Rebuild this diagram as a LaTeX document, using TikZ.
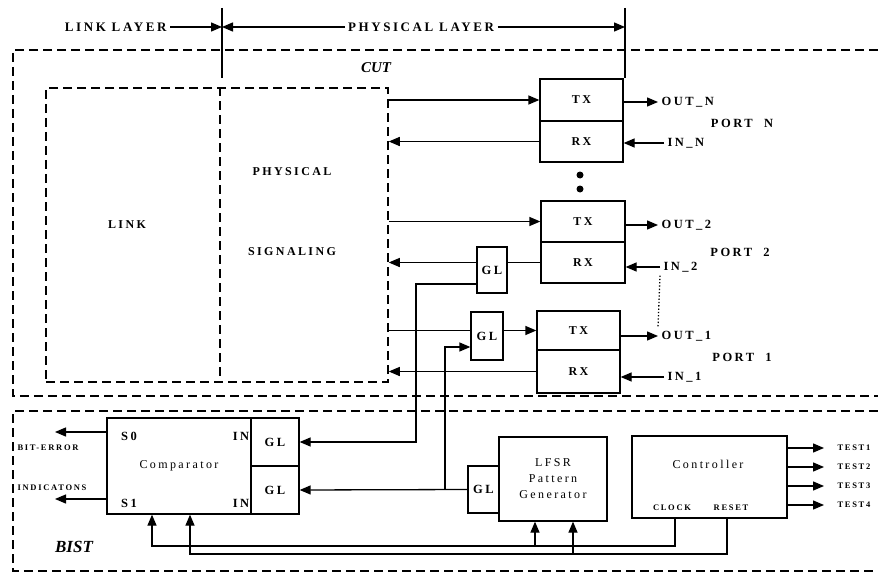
\documentclass[tikz,border=0pt]{standalone}
\usepackage{fontspec}
\setmainfont{Liberation Serif}
\newfontfamily\spaced[LetterSpace=20]{Liberation Serif}
\usetikzlibrary{positioning, arrows.meta, calc}

\begin{document}
\begin{tikzpicture}[x=1pt, y=-1pt,
    blk/.style={draw, line width=1.3pt, inner sep=0pt, align=center, fill=white},
    dsh/.style={draw, line width=1.5pt, dash pattern=on 9pt off 5pt},
    ln/.style={line width=1.3pt},
    arr/.style={line width=1.3pt, -{Triangle[length=11pt, width=9pt]}},
    big/.style={font=\spaced\bfseries\fontsize{12}{14}\selectfont},
    hdr/.style={font=\spaced\bfseries\fontsize{13}{15}\selectfont},
    mid/.style={font=\spaced\bfseries\fontsize{12.5}{14}\selectfont},
    txt/.style={font=\spaced\fontsize{12}{16}\selectfont, align=center},
    sml/.style={font=\spaced\bfseries\fontsize{8.5}{10}\selectfont}]
  \useasboundingbox (0,0) rectangle (878,575);

  \node[hdr, anchor=east] (ll) at (170,27) {LINK LAYER};
  \coordinate (d1) at (222,27);
  \coordinate (d2) at (625,27);
  \node[hdr] (pl) at (421,27) {PHYSICAL LAYER};
  \draw[arr] (ll.east) -- (d1);
  \draw[arr] (pl.west) -- (d1);
  \draw[arr] (pl.east) -- (d2);
  \draw[ln] ([yshift=19pt]d1) -- ([yshift=-51pt]d1);

  \draw[dsh] (878,50) -- (13,50) -- (13,396) -- (878,396);
  \node[font=\bfseries\itshape\fontsize{15}{17}\selectfont] (cut) at (376,68) {CUT};

  \node[dsh, minimum width=342pt, minimum height=294pt] (sig) at (217,235) {};
  \draw[dsh] ([xshift=3pt]sig.north) -- ([xshift=3pt]sig.south);
  \node[big] (lk) at (127,225) {LINK};
  \node[big] (ph) at (292,172) {PHYSICAL};
  \node[big] (sg) at (292,252) {SIGNALING};

  \node[blk, big, minimum width=83pt, minimum height=42pt] (txn) at (581.5,100) {TX};
  \node[blk, big, minimum width=83pt, minimum height=41pt] (rxn) at (581.5,141.5) {RX};
  \node[blk, big, minimum width=84pt, minimum height=41pt] (tx2) at (583,221.5) {TX};
  \node[blk, big, minimum width=84pt, minimum height=41pt] (rx2) at (583,262.5) {RX};
  \node[blk, big, minimum width=83pt, minimum height=39pt] (tx1) at (578.5,330.5) {TX};
  \node[blk, big, minimum width=83pt, minimum height=43pt] (rx1) at (578.5,371.5) {RX};
  \node[blk, mid, minimum width=30pt, minimum height=46pt] (gl2) at (492,270) {GL};
  \node[blk, mid, minimum width=32pt, minimum height=48pt] (gl1) at (487,336) {GL};
  \draw[ln] ([yshift=19pt]d2) -- (d2 |- txn.north);
  \fill (580,175) circle (3.5pt);
  \fill (580,189) circle (3.5pt);

  \node[mid, anchor=west] (outn) at (658,102) {OUT\_N};
  \node[mid] (ptn) at (742,123) {PORT~~N};
  \node[mid, anchor=west] (inn) at (664,143) {IN\_N};
  \node[mid, anchor=west] (out2) at (658,225) {OUT\_2};
  \node[mid] (pt2) at (740,252) {PORT~~2};
  \node[mid, anchor=west] (in2) at (660,267) {IN\_2};
  \node[mid, anchor=west] (out1) at (658,336) {OUT\_1};
  \node[mid] (pt1) at (742,357) {PORT~~1};
  \node[mid, anchor=west] (in1) at (664,377) {IN\_1};
  \draw[arr] (txn.east |- outn) -- (outn.west);
  \draw[arr] (inn.west) -- (rxn.east |- inn);
  \draw[arr] (tx2.east |- out2) -- (out2.west);
  \draw[arr] (in2.west) -- (rx2.east |- in2);
  \draw[arr] (tx1.east |- out1) -- (out1.west);
  \draw[arr] (in1.west) -- (rx1.east |- in1);
  \draw[ln, dotted] (in2.south west) -- (out1.north west);

  \draw[arr] (sig.east |- txn) -- (txn.west);
  \draw[arr] (rxn.west) -- (sig.east |- rxn);
  \draw[arr] (sig.east |- tx2) -- (tx2.west);
  \draw[ln] (rx2.west) -- (gl2.east |- rx2);
  \draw[arr] (gl2.west |- rx2) -- (sig.east |- rx2);
  \draw[ln] (sig.east |- tx1) -- (gl1.west |- tx1);
  \draw[arr] (gl1.east |- tx1) -- (tx1.west);
  \draw[arr] (rx1.west) -- (sig.east |- rx1);

  \draw[dsh] (878,411) -- (13,411) -- (13,571) -- (878,571);
  \node[font=\bfseries\itshape\fontsize{17}{19}\selectfont] (bist) at (74,547) {BIST};

  \node[blk, txt, minimum width=144pt, minimum height=96pt] (cmp) at (179,466) {Comparator};
  \node[blk, mid, minimum width=48pt, minimum height=48pt] (gla) at (275,442) {GL};
  \node[blk, mid, minimum width=48pt, minimum height=48pt] (glb) at (275,490) {GL};
  \node[mid] (s0) at (129,436) {S0};
  \node[mid] (s1) at (129,503) {S1};
  \node[mid, anchor=east, inner sep=1pt] (ina) at (gla.west |- s0) {IN};
  \node[mid, anchor=east, inner sep=1pt] (inb) at (glb.west |- s1) {IN};
  \coordinate (be) at (55,432);
  \coordinate (bi) at (55,499);
  \draw[arr] (cmp.west |- be) -- (be);
  \draw[arr] (cmp.west |- bi) -- (bi);
  \node[sml] (bit) at (48,448) {BIT-ERROR};
  \node[sml] (ind) at (52,488) {INDICATONS};

  \node[blk, txt, minimum width=108pt, minimum height=84pt] (lfsr) at (553,479) {LFSR\\Pattern\\Generator};
  \node[blk, mid, minimum width=31pt, minimum height=47pt] (glc) at (483.5,489.5) {GL};
  \node[blk, minimum width=155pt, minimum height=82pt] (ctl) at (709.5,477) {};
  \node[txt] (ctt) at (708,464) {Controller};
  \node[sml] (clock) at (672,508) {CLOCK};
  \node[sml] (reset) at (731,508) {RESET};

  \coordinate (c2) at (416,284);
  \draw[arr] (gl2.west |- c2) -- (c2) |- (gla.east);
  \coordinate (c1) at (445,347);
  \draw[arr] (glc.west) -- (glb.east);
  \draw[arr] (glc.west -| c1) -- (c1) -- (gl1.west |- c1);

  \coordinate (clk) at (675,546);
  \coordinate (rst) at (727,554);
  \coordinate (lc) at ([xshift=-18pt]lfsr.south);
  \coordinate (lr) at ([xshift=20pt]lfsr.south);
  \draw[arr] (clk |- ctl.south) -- (clk) -| ([xshift=-27pt]cmp.south);
  \draw[arr] (rst |- ctl.south) -- (rst) -| ([xshift=11pt]cmp.south);
  \draw[arr] (lc |- clk) -- (lc);
  \draw[arr] (lr |- rst) -- (lr);

  \foreach \i/\y in {1/448, 2/467, 3/486, 4/505} {
    \node[sml, anchor=west] (tst\i) at (834,\y) {TEST\i};
    \draw[arr, shorten >=10pt] (ctl.east |- tst\i) -- (tst\i.west);
  }
\end{tikzpicture}
\end{document}
